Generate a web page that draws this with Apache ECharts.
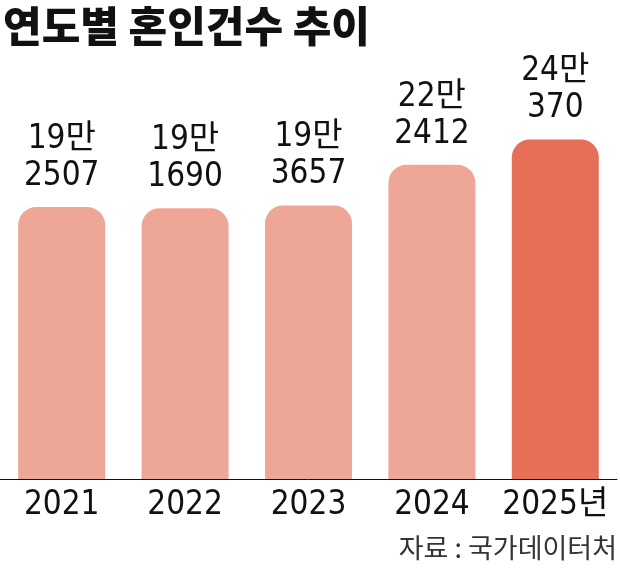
<!DOCTYPE html>
<html><head><meta charset="utf-8">
<script src="https://cdn.jsdelivr.net/npm/echarts@6/dist/echarts.min.js"></script>
<style>html,body{margin:0;padding:0;background:#fff}#c{width:620px;height:571px}</style>
</head><body><div id="c"></div>
<script>
const categories = ['2021', '2022', '2023', '2024', '2025년'];
const marriages = [192507, 191690, 193657, 222412, 240370];
const barColors = ['#EEA697', '#EEA697', '#EEA697', '#EEA697', '#E76F58'];
const titleText = '연도별 혼인건수 추이';
const sourceText = '자료 : 국가데이터처';

const NARROW = "'DejaVu Sans Condensed', 'Noto Sans CJK KR', sans-serif";
const chart = echarts.init(document.getElementById('c'), null, {renderer: 'canvas'});
chart.setOption({
  backgroundColor: '#fff',
  animation: false,
  title: [{
    text: titleText, left: -2, top: 0,
    textStyle: {fontFamily: "'Noto Sans CJK KR', sans-serif", fontWeight: 900, fontSize: 42, color: '#111'}
  }],
  graphic: [{
    type: 'text', right: 3, top: 534,
    style: {text: sourceText, font: "27px 'Noto Sans CJK KR', sans-serif", fill: '#333'}
  }],
  grid: {left: 0, right: 3, top: 58, bottom: 92, containLabel: false},
  xAxis: {
    type: 'category', data: categories,
    axisLine: {show: true, lineStyle: {color: '#111', width: 1}},
    axisTick: {show: false},
    axisLabel: {interval: 0, margin: 10, fontFamily: NARROW, fontSize: 33, color: '#111'}
  },
  yAxis: {
    type: 'value', min: 0, max: 298000,
    show: false, splitLine: {show: false}
  },
  series: [{
    type: 'bar', barWidth: 87,
    data: marriages.map((v, i) => ({value: v, itemStyle: {color: barColors[i]}})),
    itemStyle: {borderRadius: [18, 18, 0, 0]},
    label: {
      show: true, position: 'top', distance: 12,
      fontFamily: NARROW, fontSize: 33, lineHeight: 37, color: '#111',
      formatter: p => Math.floor(p.value / 10000) + '만\n' + (p.value % 10000)
    }
  }]
});
</script></body></html>
